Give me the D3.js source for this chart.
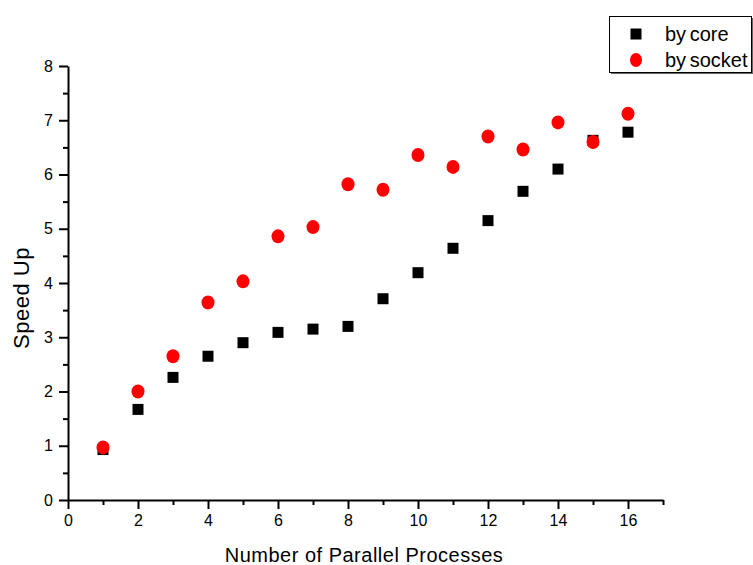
<!DOCTYPE html>
<html>
<head>
<meta charset="utf-8">
<script src="https://cdn.jsdelivr.net/npm/d3@7"></script>
<style>
  body { margin: 0; background: #fff; }
  text { font-family: "Liberation Sans", Arial, sans-serif; fill: #000; }
</style>
</head>
<body>
<div id="chart"></div>
<script>
// data
var processes = [1, 2, 3, 4, 5, 6, 7, 8, 9, 10, 11, 12, 13, 14, 15, 16];
var byCore = [0.93, 1.67, 2.26, 2.65, 2.9, 3.09, 3.15, 3.2, 3.71, 4.19, 4.64, 5.15, 5.69, 6.1, 6.63, 6.78];
var bySocket = [0.97, 2.0, 2.65, 3.64, 4.03, 4.86, 5.03, 5.82, 5.72, 6.36, 6.14, 6.7, 6.46, 6.96, 6.6, 7.12];
var xTicks = [0, 2, 4, 6, 8, 10, 12, 14, 16];
var yTicks = [0, 1, 2, 3, 4, 5, 6, 7, 8];

var W = 753, H = 565;
var margin = {top: 66, right: 90, bottom: 65, left: 68},
    width = W - margin.left - margin.right,
    height = H - margin.top - margin.bottom;

var svg = d3.select("#chart")
  .append("svg")
    .attr("width", W)
    .attr("height", H)
  .append("g")
    .attr("transform", "translate(" + margin.left + "," + margin.top + ")");

var x = d3.scaleLinear()
  .domain([0, 17])
  .range([0, width]);

var y = d3.scaleLinear()
  .domain([0, 8])
  .range([height, 0]);

// minor ticks (no labels)
svg.append("g")
  .attr("transform", "translate(0," + height + ")")
  .call(d3.axisBottom(x).tickValues(d3.range(1, 18, 2)).tickSize(5).tickFormat(""))
  .call(function(g) { g.select(".domain").remove(); });
svg.append("g")
  .call(d3.axisLeft(y).tickValues(d3.range(0.5, 8, 1)).tickSize(5).tickFormat(""))
  .call(function(g) { g.select(".domain").remove(); });

// major axes
svg.append("g")
  .attr("transform", "translate(0," + height + ")")
  .call(d3.axisBottom(x).tickValues(xTicks).tickSize(9).tickSizeOuter(0).tickPadding(6));

svg.append("g")
  .call(d3.axisLeft(y).tickValues(yTicks).tickSize(9).tickSizeOuter(0).tickPadding(6));

svg.selectAll(".domain, .tick line")
  .attr("stroke", "#000")
  .attr("stroke-width", 2);
svg.selectAll(".tick text")
  .style("font-size", "16px")
  .style("font-family", "Liberation Sans, Arial, sans-serif");

// axis titles
svg.append("text")
  .attr("x", 296)
  .attr("y", height + 62)
  .attr("text-anchor", "middle")
  .style("font-size", "20px")
  .style("letter-spacing", "0.5px")
  .text("Number of Parallel Processes");

svg.append("text")
  .attr("transform", "translate(" + (-39) + "," + 232 + ") rotate(-90)")
  .attr("text-anchor", "middle")
  .style("font-size", "22px")
  .style("letter-spacing", "0.5px")
  .text("Speed Up");

// by core squares
var sq = 11;
svg.selectAll(".core")
  .data(processes)
  .enter()
  .append("rect")
    .attr("class", "core")
    .attr("x", function(d) { return x(d) - sq / 2; })
    .attr("y", function(d, i) { return y(byCore[i]) - sq / 2; })
    .attr("width", sq)
    .attr("height", sq)
    .attr("fill", "#000");

// by socket dots
svg.selectAll(".socket")
  .data(processes)
  .enter()
  .append("ellipse")
    .attr("class", "socket")
    .attr("cx", function(d) { return x(d); })
    .attr("cy", function(d, i) { return y(bySocket[i]); })
    .attr("rx", 6.5)
    .attr("ry", 7)
    .attr("fill", "#ff0000");

// legend
var legend = d3.select("svg").append("g");
legend.append("rect")
  .attr("x", 611).attr("y", 18)
  .attr("width", 143).attr("height", 56)
  .attr("fill", "#666");
legend.append("rect")
  .attr("x", 609.5).attr("y", 16.5)
  .attr("width", 142).attr("height", 56)
  .attr("fill", "#fff")
  .attr("stroke", "#000")
  .attr("stroke-width", 1);

var legendItems = ["by core", "by socket"];
legendItems.forEach(function(name, i) {
  var ly = 34 + i * 26;
  if (i === 0) {
    legend.append("rect")
      .attr("x", 636 - 5.5).attr("y", ly - 5.5)
      .attr("width", 11).attr("height", 11)
      .attr("fill", "#000");
  } else {
    legend.append("ellipse")
      .attr("cx", 636).attr("cy", ly)
      .attr("rx", 6).attr("ry", 7)
      .attr("fill", "#ff0000");
  }
  legend.append("text")
    .attr("x", 665)
    .attr("y", ly + 7)
    .style("font-size", "20px")
    .style("word-spacing", "-2px")
    .text(name);
});
</script>
</body>
</html>
